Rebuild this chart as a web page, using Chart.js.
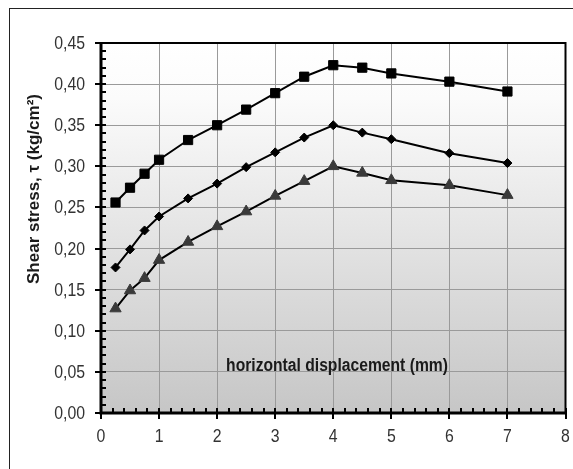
<!DOCTYPE html>
<html>
<head>
<meta charset="utf-8">
<script src="https://cdn.jsdelivr.net/npm/chart.js@4.4.1/dist/chart.umd.min.js"></script>
<style>
  html, body { margin: 0; padding: 0; background: #fff; }
  #cadre { position: relative; width: 573px; height: 469px; overflow: hidden; }
  #bordure { position: absolute; left: 9px; top: 8px; width: 620px; height: 520px; border: 1px solid #222; }
  canvas { position: absolute; left: 0; top: 0; }
</style>
</head>
<body>
<div id="cadre">
  <div id="bordure"></div>
  <canvas id="chart-cisaillement" width="573" height="469"></canvas>
</div>
<script>
// Déplacement horizontal (mm) et contrainte de cisaillement (kg/cm²) par essai
const deplacement = [0.25, 0.5, 0.75, 1, 1.5, 2, 2.5, 3, 3.5, 4, 4.5, 5, 6, 7];
const tauCarre    = [0.256, 0.274, 0.291, 0.308, 0.332, 0.350, 0.369, 0.389, 0.409, 0.423, 0.420, 0.413, 0.403, 0.391];
const tauLosange  = [0.177, 0.199, 0.222, 0.239, 0.261, 0.279, 0.299, 0.317, 0.335, 0.350, 0.341, 0.333, 0.316, 0.304];
const tauTriangle = [0.127, 0.149, 0.164, 0.186, 0.208, 0.227, 0.245, 0.264, 0.282, 0.300, 0.292, 0.283, 0.277, 0.265];

const titreX = "horizontal displacement (mm)";
const titreY = "Shear stress, \u03C4 (kg/cm\u00B2)";

const police = "'Liberation Sans', Arial, sans-serif";

function points(valeurs) {
  return deplacement.map((x, i) => ({ x: x, y: valeurs[i] }));
}

function serie(valeurs, style, rayon, couleur) {
  return {
    data: points(valeurs),
    showLine: true,
    borderColor: '#000',
    borderWidth: 2,
    tension: 0,
    pointStyle: style,
    pointRadius: rayon,
    pointHoverRadius: rayon,
    pointBackgroundColor: couleur,
    pointBorderColor: couleur,
    pointBorderWidth: 1
  };
}

// texte resserré horizontalement (façon Arial Narrow)
function texteEtroit(ctx, texte, x, y, aligne, echelle) {
  ctx.save();
  ctx.translate(x, y);
  ctx.scale(echelle, 1);
  ctx.textAlign = aligne;
  ctx.fillText(texte, 0, 0);
  ctx.restore();
}

// Fond dégradé, axes épais, graduations, étiquettes et titres
const decorPlugin = {
  id: 'decor',
  beforeDraw(chart) {
    const ctx = chart.ctx, ca = chart.chartArea;
    const g = ctx.createLinearGradient(0, ca.top, 0, ca.bottom);
    g.addColorStop(0, '#ffffff');
    g.addColorStop(0.15, '#fbfbfb');
    g.addColorStop(1, '#c6c6c6');
    ctx.save();
    ctx.fillStyle = g;
    ctx.fillRect(ca.left, ca.top, ca.right - ca.left, ca.bottom - ca.top);
    ctx.restore();
  },
  afterDraw(chart) {
    const ctx = chart.ctx, ca = chart.chartArea;
    const xa = chart.scales.x, ya = chart.scales.y;
    ctx.save();
    ctx.strokeStyle = '#000';
    ctx.lineWidth = 2;
    // graduations verticales : mineures tous les 0,01
    for (let i = 0; i <= 45; i++) {
      const py = Math.round(ya.getPixelForValue(i / 100));
      const majeure = i % 5 === 0;
      ctx.beginPath();
      ctx.moveTo(ca.left - (majeure ? 6 : 0), py);
      ctx.lineTo(ca.left + 5, py);
      ctx.stroke();
    }
    // graduations horizontales : mineures tous les 0,2
    for (let i = 0; i <= 40; i++) {
      const px = Math.round(xa.getPixelForValue(i / 5));
      const majeure = i % 5 === 0;
      ctx.beginPath();
      ctx.moveTo(px, ca.bottom - 5);
      ctx.lineTo(px, ca.bottom + (majeure ? 6 : 0));
      ctx.stroke();
    }
    // cadre de la zone de traçage
    ctx.lineWidth = 2;
    ctx.beginPath();
    ctx.moveTo(ca.left, ca.top);
    ctx.lineTo(ca.right, ca.top);
    ctx.lineTo(ca.right, ca.bottom);
    ctx.stroke();
    ctx.lineWidth = 3;
    ctx.beginPath();
    ctx.moveTo(ca.left, ca.top);
    ctx.lineTo(ca.left, ca.bottom);
    ctx.lineTo(ca.right, ca.bottom);
    ctx.stroke();

    // étiquettes des graduations
    ctx.fillStyle = '#333';
    ctx.textBaseline = 'middle';
    ctx.font = "18px " + police;
    ya.ticks.forEach(t => {
      texteEtroit(ctx, t.label, ca.left - 16, ya.getPixelForValue(t.value) + 1, 'right', 0.88);
    });
    xa.ticks.forEach(t => {
      texteEtroit(ctx, t.label, xa.getPixelForValue(t.value), ca.bottom + 24, 'center', 0.88);
    });

    // titres
    ctx.fillStyle = '#1a1a1a';
    ctx.font = "bold 18px " + police;
    texteEtroit(ctx, titreX, 337, 366, 'center', 0.87);
    ctx.translate(34, 189);
    ctx.rotate(-Math.PI / 2);
    ctx.font = "bold 17px " + police;
    ctx.textAlign = 'center';
    ctx.fillText(titreY, 0, 0);
    ctx.restore();
  }
};

const ctx = document.getElementById('chart-cisaillement').getContext('2d');
window.chartCisaillement = new Chart(ctx, {
  type: 'scatter',
  data: {
    datasets: [
      serie(tauCarre, 'rect', 6.5, '#000'),
      serie(tauLosange, 'rectRot', 4.5, '#000'),
      serie(tauTriangle, 'triangle', 6.5, '#3a3a3a')
    ]
  },
  options: {
    responsive: false,
    animation: false,
    devicePixelRatio: 1,
    layout: { padding: { top: 43, right: 6, left: 0, bottom: 0 } },
    plugins: { legend: { display: false }, tooltip: { enabled: false } },
    scales: {
      x: {
        type: 'linear',
        min: 0, max: 8,
        afterFit: s => { s.height = 56; },
        grid: { color: '#9a9a9a', lineWidth: 1, drawTicks: false },
        border: { display: false },
        ticks: { stepSize: 1, display: false }
      },
      y: {
        min: 0, max: 0.45,
        afterFit: s => { s.width = 101; },
        grid: { color: '#9a9a9a', lineWidth: 1, drawTicks: false },
        border: { display: false },
        ticks: {
          stepSize: 0.05, display: false,
          callback: v => v.toFixed(2).replace('.', ',')
        }
      }
    }
  },
  plugins: [decorPlugin]
});
</script>
</body>
</html>
